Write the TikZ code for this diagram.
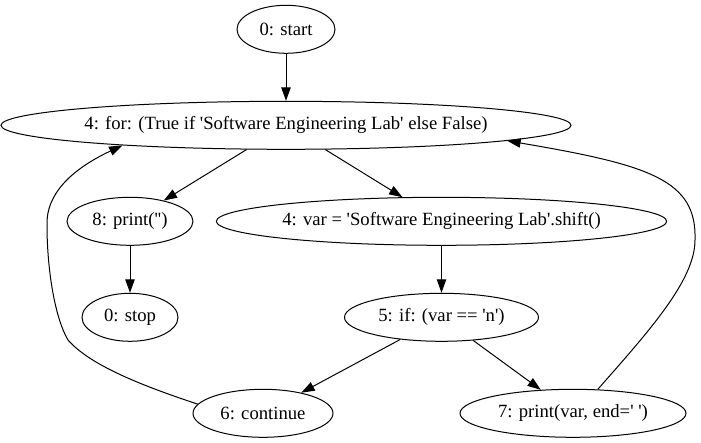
\documentclass[tikz,border=0pt]{standalone}
\usepackage{fontspec}
\setmainfont{Liberation Serif}
\newfontfamily\gvfont{Liberation Serif}
\usetikzlibrary{arrows.meta,shapes.geometric}
\newcommand{\sq}{\textquotesingle}
\begin{document}
\begin{tikzpicture}[x=0.75pt,y=-0.75pt,
  gv/.style={draw, ellipse, line width=0.75pt, inner sep=0pt, minimum height=36pt, minimum width=#1*1.5pt, font=\gvfont\fontsize{14pt}{16pt}\selectfont},
  edge/.style={line width=0.75pt, -{Triangle[length=10pt,width=7pt]}}]
\useasboundingbox (0,0) rectangle (701,443);
\node[gv=49]  (start) at (286,29.3)  {0: start};
\node[gv=281] (for)   at (286,125.3) {4: for: (True if \sq Software Engineering Lab\sq{} else False)};
\node[gv=63]  (print) at (130,221.3) {8: print(\sq\sq)};
\node[gv=225] (var)   at (441.5,221.3) {4: var = \sq Software Engineering Lab\sq.shift()};
\node[gv=48]  (stop)  at (130,317.3) {0: stop};
\node[gv=97]  (if)    at (441.5,317.3) {5: if: (var == \sq n\sq)};
\node[gv=70]  (cont)  at (263,413.3) {6: continue};
\node[gv=113] (pv)    at (573,413.3) {7: print(var, end=\sq\ \sq)};
\draw[edge] (start) -- (for);
\draw[edge] (for) -- (print);
\draw[edge] (for) -- (var);
\draw[edge] (print) -- (stop);
\draw[edge] (var) -- (if);
\draw[edge] (if) -- (cont);
\draw[edge] (if) -- (pv);
\draw[edge] (cont.172) .. controls (140,385) and (90,365) .. (68,340)
  .. controls (55,318) and (47,270) .. (47,225)
  .. controls (46,195) and (70,170) .. (for.187.5);
\draw[edge] (pv.44) .. controls (650,330) and (695,280) .. (695,240)
  .. controls (697,180) and (650,165) .. (for.-4);
\end{tikzpicture}
\end{document}
